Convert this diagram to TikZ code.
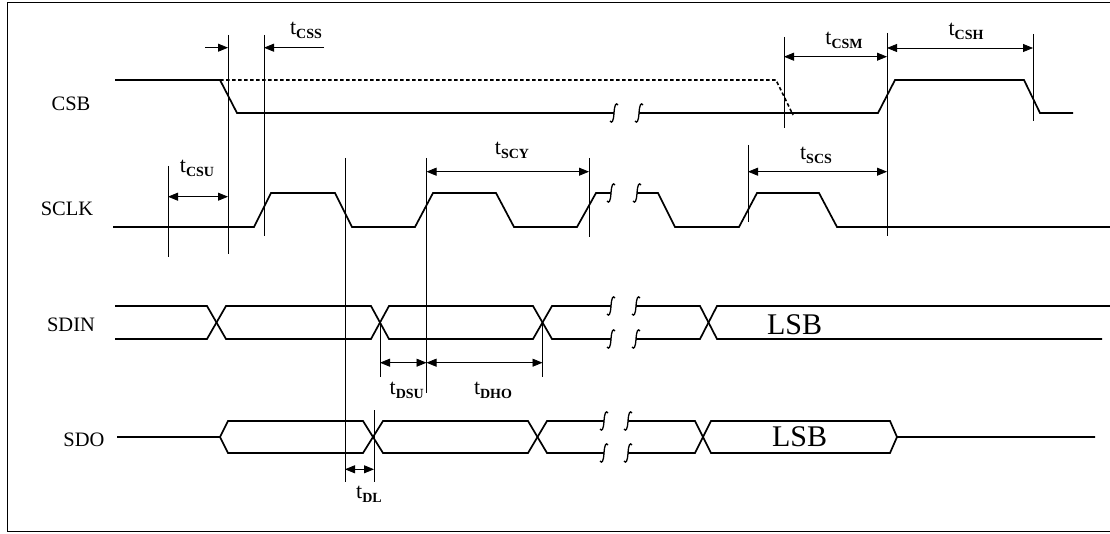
\documentclass[tikz,border=0pt]{standalone}
\usepackage{fontspec}
\setmainfont{Liberation Serif}
\usetikzlibrary{arrows.meta}

\newcommand{\tlab}[1]{t\raisebox{-4pt}{\fontsize{14}{14}\selectfont\bfseries #1}}

\begin{document}
\begin{tikzpicture}[x=1pt, y=-1pt]
        % Define styles
        \tikzstyle{wave} = [draw, line width=1.7pt, line join=miter]
        \tikzstyle{guide} = [draw, line width=0.8pt]
        \tikzstyle{dimline} = [draw, line width=0.8pt, {Triangle[length=10pt,width=8pt]}-{Triangle[length=10pt,width=8pt]}]
        \tikzstyle{dimend} = [draw, line width=0.8pt, -{Triangle[length=10pt,width=8pt]}]
        \tikzstyle{signame} = [font=\fontsize{20.5}{20.5}\selectfont, inner sep=0]
        \tikzstyle{tname} = [font=\fontsize{22}{22}\selectfont, inner sep=0]
        \tikzstyle{bitname} = [font=\fontsize{30}{30}\selectfont, inner sep=0]
        \tikzset{brk/.pic={\draw[line width=1.3pt] (-4,8) .. controls (-2,11) and (-0.5,8) .. (0,0)
            .. controls (0.5,-8) and (2,-11) .. (4,-8);}}

        \useasboundingbox (0,0) rectangle (1110,534);
        \draw[line width=1pt] (7,3) rectangle (1114,531);

        % Signal names
        \node[signame] (csb) at (71,104) {CSB};
        \node[signame] (sclk) at (67,209) {SCLK};
        \node[signame] (sdin) at (71,325) {SDIN};
        \node[signame] (sdo) at (84,440) {SDO};

        % CSB
        \draw[wave] (115,80) -- (220,80) -- (237,113) -- (614,113);
        \pic at (614,113) {brk};
        \pic at (639,113) {brk};
        \draw[wave] (639,113) -- (878,113) -- (895,80) -- (1024,80) -- (1040,113) -- (1073,113);
        \draw[line width=1.6pt, dash pattern=on 3.5pt off 2.5pt] (220,80) -- (776,80) -- (793,115);

        % SCLK
        \draw[wave] (113,227) -- (254,227) -- (271,193) -- (335,193) -- (352,227) -- (415,227) -- (433,193)
            -- (496,193) -- (514,227) -- (577,227) -- (596,193) -- (611,193);
        \pic at (611,193) {brk};
        \pic at (637,193) {brk};
        \draw[wave] (637,193) -- (658,193) -- (675,227) -- (739,227) -- (757,193) -- (819,193) -- (837,227) -- (1115,227);

        % SDIN
        \draw[wave] (115,306) -- (207,306) -- (226,339) -- (371,339) -- (389,306) -- (533,306) -- (552,339) -- (611,339);
        \draw[wave] (115,339) -- (207,339) -- (226,306) -- (371,306) -- (389,339) -- (533,339) -- (552,306) -- (611,306);
        \pic at (611,306) {brk};
        \pic at (636,306) {brk};
        \pic at (611,339) {brk};
        \pic at (636,339) {brk};
        \draw[wave] (636,306) -- (700,306) -- (717,339) -- (1102,339);
        \draw[wave] (636,339) -- (700,339) -- (717,306) -- (1115,306);

        % SDO
        \draw[wave] (117,437) -- (220,437) -- (228,421) -- (363,421) -- (383,453) -- (528,453) -- (547,421) -- (604,421);
        \draw[wave] (220,437) -- (228,453) -- (363,453) -- (383,421) -- (528,421) -- (547,453) -- (604,453);
        \pic at (604,421) {brk};
        \pic at (628,421) {brk};
        \pic at (604,453) {brk};
        \pic at (628,453) {brk};
        \draw[wave] (628,421) -- (695,421) -- (711,453) -- (890,453) -- (897,437) -- (1095,437);
        \draw[wave] (628,453) -- (695,453) -- (711,421) -- (890,421) -- (897,437);

        % Guide lines
        \draw[guide] (168,166) -- (168,257);
        \draw[guide] (228,35) -- (228,254);
        \draw[guide] (264,35) -- (264,236);
        \draw[guide] (345,158) -- (345,482);
        \draw[guide] (426.5,158) -- (426.5,393);
        \draw[guide] (589,158) -- (589,237);
        \draw[guide] (748,145) -- (748,222);
        \draw[guide] (784,37) -- (784,128);
        \draw[guide] (887,33) -- (887,236);
        \draw[guide] (1033,34) -- (1033,121);
        \draw[guide] (380,323) -- (380,377);
        \draw[guide] (542.5,323) -- (542.5,377);
        \draw[guide] (374,410) -- (374,482);

        % Timing arrows
        \draw[dimend] (205,47.7) -- (228,47.7);
        \draw[dimend] (324,47.7) -- (264,47.7);
        \draw[dimline] (168,196.7) -- (228,196.7);
        \draw[dimline] (426.5,171.7) -- (589,171.7);
        \draw[dimline] (748,171.7) -- (887,171.7);
        \draw[dimline] (784,56.7) -- (887,56.7);
        \draw[dimline] (887,48) -- (1033,48);
        \draw[dimline] (380,362.7) -- (426.5,362.7);
        \draw[dimline] (426.5,362.7) -- (542.5,362.7);
        \draw[dimline] (345,469.3) -- (374,469.3);

        % Timing labels
        \node[tname] (tcss) at (306,30) {\tlab{CSS}};
        \node[tname] (tcsu) at (197,168) {\tlab{CSU}};
        \node[tname] (tscy) at (512,150) {\tlab{SCY}};
        \node[tname] (tscs) at (816,155) {\tlab{SCS}};
        \node[tname] (tcsm) at (844,40) {\tlab{CSM}};
        \node[tname] (tcsh) at (966,31.5) {\tlab{CSH}};
        \node[tname] (tdsu) at (406.7,390) {\tlab{DSU}};
        \node[tname] (tdho) at (493,390) {\tlab{DHO}};
        \node[tname] (tdl) at (369,494) {\tlab{DL}};

        % Data labels
        \node[bitname] (lsbin) at (794.5,325) {LSB};
        \node[bitname] (lsbout) at (799.5,437) {LSB};

    \end{tikzpicture}
\end{document}
